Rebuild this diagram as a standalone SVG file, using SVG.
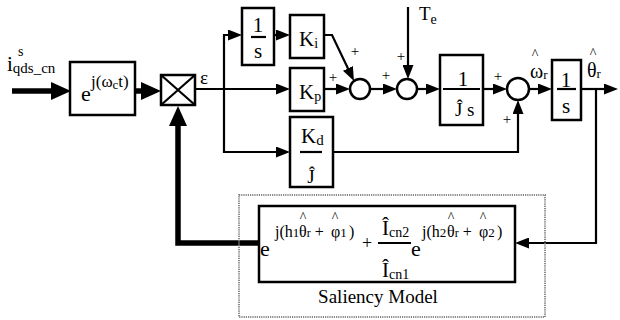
<svg xmlns="http://www.w3.org/2000/svg" width="620" height="320" viewBox="0 0 620 320" font-family="Liberation Serif, serif">
<style>
.bx{fill:#fff;stroke:#000;stroke-width:2.5}
.ln{fill:none;stroke:#000;stroke-width:2.2}
.tk{fill:none;stroke:#000;stroke-width:5.5}
.fr{stroke:#000;stroke-width:2.2}
.b{font-size:21px}
.sb{font-size:14px}
.pl{font-size:15px;text-anchor:middle}
.h{font-size:14px;text-anchor:middle}
.m{text-anchor:middle}
</style>
<defs>
<marker id="a" markerUnits="userSpaceOnUse" markerWidth="14" markerHeight="11" refX="6" refY="5.5" orient="auto" viewBox="0 0 14 11"><path d="M0,0 L14,5.5 L0,11 z" fill="#000"/></marker>
<marker id="A" markerUnits="userSpaceOnUse" markerWidth="20" markerHeight="18" refX="8" refY="9" orient="auto" viewBox="0 0 20 18"><path d="M0,0 L20,9 L0,18 z" fill="#000"/></marker>
</defs>
<rect width="620" height="320" fill="#fff"/>

<g id="connectors">
<path class="tk" d="M12,91 H59" marker-end="url(#A)"/>
<path class="tk" d="M135,91 H149" marker-end="url(#A)"/>
<path class="tk" d="M259,243 H178 V118" marker-end="url(#A)"/>
<path class="ln" d="M195,89 H282" marker-end="url(#a)"/>
<path class="ln" d="M224,89 V35 H234" marker-end="url(#a)"/>
<path class="ln" d="M224,89 V152 H282" marker-end="url(#a)"/>
<path class="ln" d="M274,35 H282" marker-end="url(#a)"/>
<path class="ln" d="M324,35 H332 L350.5,73.8" marker-end="url(#a)"/>
<path class="ln" d="M324,89 H342" marker-end="url(#a)"/>
<path class="ln" d="M370,89 H389" marker-end="url(#a)"/>
<path class="ln" d="M408,7 V71" marker-end="url(#a)"/>
<path class="ln" d="M417,89 H432" marker-end="url(#a)"/>
<path class="ln" d="M483,89 H499" marker-end="url(#a)"/>
<path class="ln" d="M333,152 H518 V108" marker-end="url(#a)"/>
<path class="ln" d="M529,89 H544" marker-end="url(#a)"/>
<path class="ln" d="M581,89 H610" marker-end="url(#a)"/>
<path class="ln" d="M596,89 V243 H523" marker-end="url(#a)"/>
</g>

<g id="input-label">
<text x="18" y="56" font-size="14">s</text>
<text x="7" y="71" font-size="21">i<tspan font-size="15" dy="2">qds_cn</tspan></text>
</g>

<g id="demod">
<rect class="bx" x="70" y="62" width="65" height="53"/>
<text x="81" y="101" font-size="22">e</text>
<text x="91" y="87" font-size="17">j(ω<tspan font-size="13" dy="2">c</tspan><tspan dy="-2">t)</tspan></text>
</g>

<g id="mixer">
<rect class="bx" x="161" y="75" width="34" height="30"/>
<path class="fr" d="M161,75 L195,105 M195,75 L161,105" stroke-width="2.5"/>
</g>
<text id="eps" x="200" y="84" font-size="19">ε</text>

<g id="integ1">
<rect class="bx" x="242" y="8" width="32" height="57"/>
<text class="b m" x="258" y="32">1</text>
<line class="fr" x1="251" y1="37" x2="266" y2="37"/>
<text class="b m" x="258" y="58">s</text>
</g>

<g id="Ki">
<rect class="bx" x="290" y="15" width="34" height="43"/>
<text class="b" x="299" y="46">K<tspan class="sb" dy="2">i</tspan></text>
</g>

<g id="Kp">
<rect class="bx" x="290" y="68" width="34" height="43"/>
<text class="b" x="299" y="99">K<tspan class="sb" dy="2">p</tspan></text>
</g>

<g id="Kd">
<rect class="bx" x="290" y="117" width="43" height="70"/>
<text class="b" x="301" y="143">K<tspan font-size="15" dy="2">d</tspan></text>
<line class="fr" x1="300" y1="152" x2="322" y2="152"/>
<text class="m" x="311" y="183" font-size="19">Ĵ</text>
</g>

<g id="sum1">
<circle class="bx" cx="360" cy="89" r="10"/>
</g>
<g id="sum2">
<circle class="bx" cx="407" cy="89" r="10"/>
</g>

<g id="signs">
<text class="pl" x="333" y="82">+</text>
<text class="pl" x="355" y="56">+</text>
<text class="pl" x="386" y="80">+</text>
<text class="pl" x="401" y="61">+</text>
<text class="pl" x="498" y="81">+</text>
<text class="pl" x="507" y="124">+</text>
</g>

<g id="Te">
<text x="419" y="20" font-size="19">T<tspan font-size="14" dy="4">e</tspan></text>
</g>

<g id="inertia">
<rect class="bx" x="440" y="55" width="43" height="70"/>
<text class="b m" x="463" y="86">1</text>
<line class="fr" x1="443" y1="89" x2="480" y2="89"/>
<text y="116" font-size="19"><tspan x="455">Ĵ</tspan><tspan x="467">s</tspan></text>
</g>

<g id="sum3">
<circle class="bx" cx="518" cy="89" r="11"/>
</g>

<g id="omega">
<text class="h" x="535" y="59">^</text>
<text x="530" y="78" font-size="20">ω<tspan font-size="13" dy="1">r</tspan></text>
</g>

<g id="integ2">
<rect class="bx" x="552" y="60" width="29" height="60"/>
<text class="b m" x="566" y="87">1</text>
<line class="fr" x1="557" y1="89" x2="576" y2="89"/>
<text class="b m" x="566" y="113">s</text>
</g>

<g id="theta">
<text class="h" x="593" y="58">^</text>
<text x="587" y="77" font-size="20">θ<tspan font-size="13" dy="1">r</tspan></text>
</g>

<g id="saliency">
<rect x="239" y="195" width="306" height="122" fill="none" stroke="#888" stroke-width="2" stroke-dasharray="1.2 1"/>
<rect class="bx" x="259" y="206" width="256" height="76"/>
<text x="260" y="256" font-size="22">e</text>
<text y="237" font-size="16"><tspan x="275">j(h</tspan><tspan font-size="13">1</tspan><tspan x="299">θ</tspan><tspan font-size="12">r</tspan><tspan> + </tspan><tspan x="331">φ</tspan><tspan font-size="13">1</tspan><tspan x="349">)</tspan></text>
<text class="h" x="303" y="222">^</text>
<text class="h" x="335" y="222">^</text>
<text class="m" x="367" y="249" font-size="18">+</text>
<text x="382" y="235" font-size="21">Î<tspan font-size="14" dy="2">cn2</tspan></text>
<line class="fr" x1="378" y1="243" x2="411" y2="243"/>
<text x="382" y="277" font-size="21">Î<tspan font-size="14" dy="2">cn1</tspan></text>
<text x="411" y="256" font-size="22">e</text>
<text y="237" font-size="16"><tspan x="422">j(h</tspan><tspan font-size="13">2</tspan><tspan x="447">θ</tspan><tspan font-size="12">r</tspan><tspan> + </tspan><tspan x="479">φ</tspan><tspan font-size="13">2</tspan><tspan x="497">)</tspan></text>
<text class="h" x="451" y="222">^</text>
<text class="h" x="483" y="222">^</text>
<text class="m" x="378" y="303" font-size="19">Saliency Model</text>
</g>
</svg>
